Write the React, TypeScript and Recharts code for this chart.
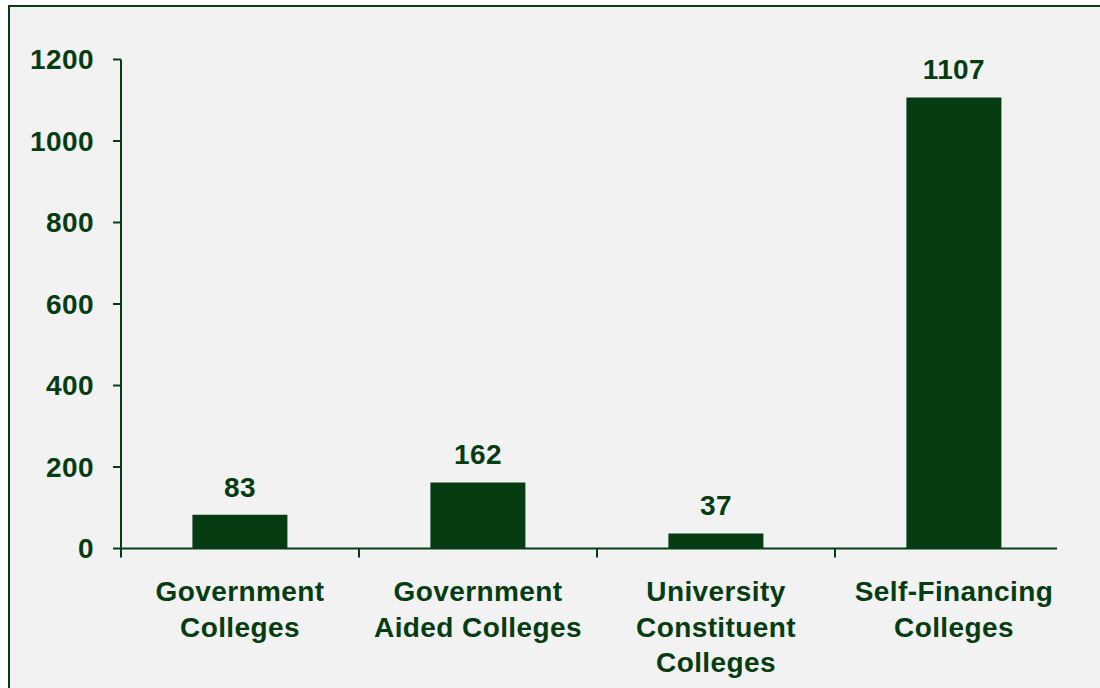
import React from "react";
import { BarChart, Bar, XAxis, YAxis, LabelList } from "recharts";

const categories = [
  "Government\nColleges",
  "Government\nAided Colleges",
  "University\nConstituent\nColleges",
  "Self-Financing\nColleges",
];
const collegeCounts = [83, 162, 37, 1107];
const yTicks = [0, 200, 400, 600, 800, 1000, 1200];

const GREEN = "#063c12";
const BG = "#f2f2f2";
const FONT = "'Liberation Sans', Arial, Helvetica, sans-serif";
const FONT_SIZE = 28;
const LS = 0.4;

const CHART_W = 1090;
const CHART_H = 681;
const MARGIN = { top: 52.5, right: 27, bottom: 9.5, left: 0 };
const Y_AXIS_W = 111;
const PLOT_W = CHART_W - MARGIN.left - MARGIN.right - Y_AXIS_W;
const BAND = PLOT_W / categories.length;
const X_TICK_SIZE = 8;
const X_TICK_MARGIN = 25;
const LINE_H = 35.5;

const data = categories.map((c, i) => ({ name: c, value: collegeCounts[i] }));

const XTick = (props: any) => {
  const { x, y, payload } = props;
  const lines = String(payload.value).split("\n");
  const axisY = y - X_TICK_SIZE - X_TICK_MARGIN;
  const bx = x - BAND / 2;
  return (
    <g>
      <line x1={bx} y1={axisY} x2={bx} y2={axisY + X_TICK_SIZE + 1} stroke={GREEN} strokeWidth={2} />
      <text
        x={x}
        y={y}
        textAnchor="middle"
        fill={GREEN}
        fontFamily={FONT}
        fontWeight="bold"
        fontSize={FONT_SIZE}
        letterSpacing={LS}
      >
        {lines.map((l, i) => (
          <tspan key={i} x={x} y={y + i * LINE_H} dy="0.71em">
            {l}
          </tspan>
        ))}
      </text>
    </g>
  );
};

export default function App() {
  return (
    <div
      style={{
        position: "absolute",
        left: 8,
        top: 5,
        width: 1092,
        height: 683,
        boxSizing: "border-box",
        borderTop: `2px solid ${GREEN}`,
        borderLeft: `2px solid ${GREEN}`,
        background: BG,
        overflow: "hidden",
      }}
    >
      <BarChart width={CHART_W} height={CHART_H} data={data} margin={MARGIN} barCategoryGap="30%">
        <XAxis
          dataKey="name"
          height={130}
          interval={0}
          tickLine={false}
          tickSize={X_TICK_SIZE}
          tickMargin={X_TICK_MARGIN}
          axisLine={{ stroke: GREEN, strokeWidth: 2, strokeDasharray: "936 200" }}
          tick={<XTick />}
        />
        <YAxis
          width={Y_AXIS_W}
          domain={[0, 1200]}
          ticks={yTicks}
          interval={0}
          tickSize={8}
          tickMargin={19}
          axisLine={{ stroke: GREEN, strokeWidth: 2 }}
          tickLine={{ stroke: GREEN, strokeWidth: 2 }}
          tick={{ fill: GREEN, fontFamily: FONT, fontWeight: "bold", fontSize: FONT_SIZE, letterSpacing: LS }}
        />
        <Bar dataKey="value" fill={GREEN} isAnimationActive={false}>
          <LabelList
            dataKey="value"
            position="top"
            offset={18}
            fill={GREEN}
            fontFamily={FONT}
            fontWeight="bold"
            fontSize={FONT_SIZE}
            letterSpacing={LS}
          />
        </Bar>
      </BarChart>
    </div>
  );
}
